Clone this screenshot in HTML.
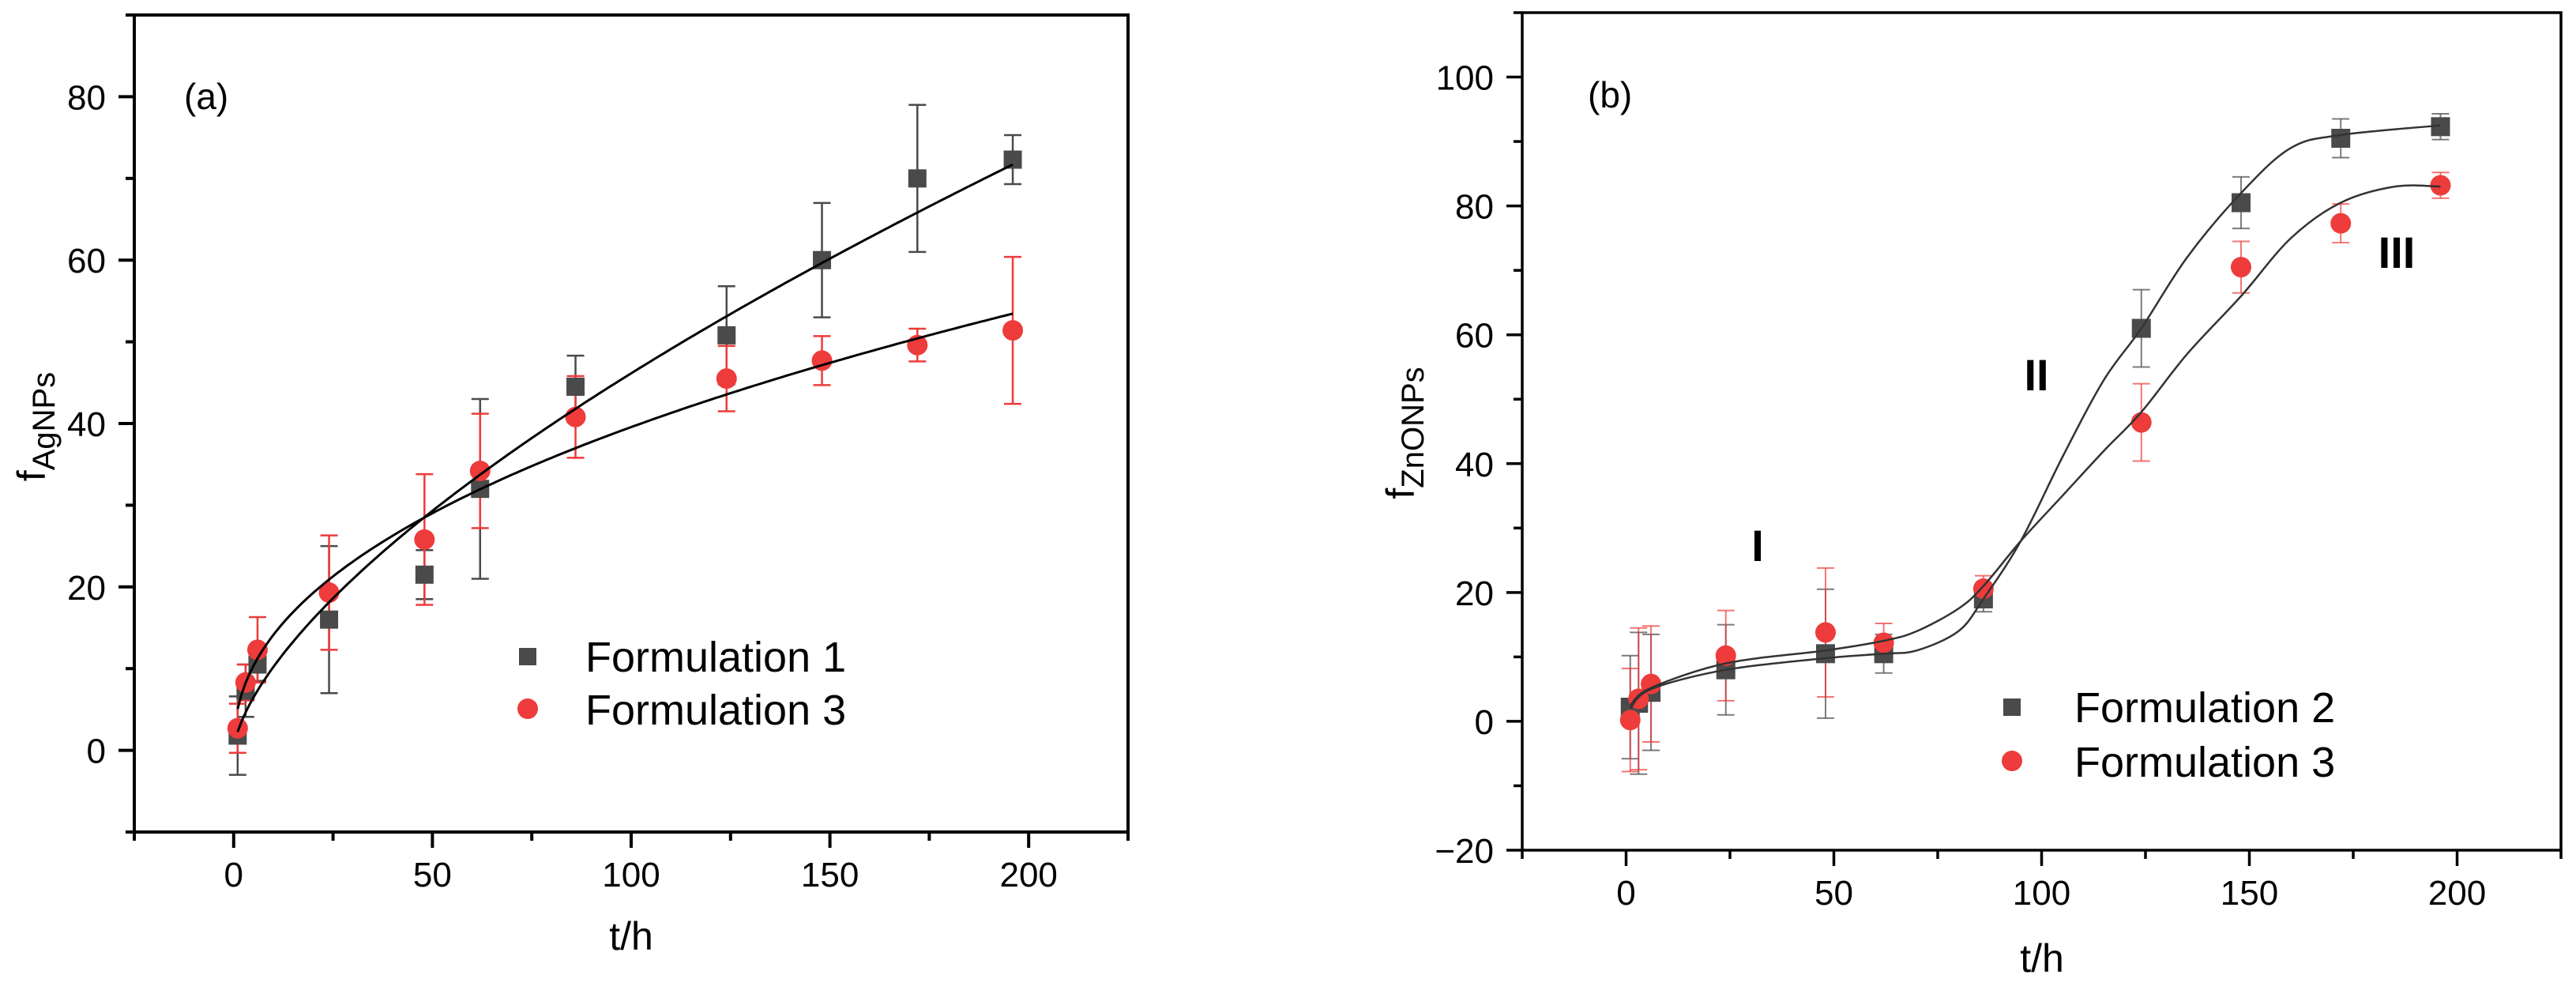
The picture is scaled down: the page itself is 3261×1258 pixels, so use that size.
<!DOCTYPE html>
<html><head><meta charset="utf-8">
<style>
html,body{margin:0;padding:0;background:#fff;}
svg{display:block;font-family:"Liberation Sans",Arial,sans-serif;}
</style></head>
<body>
<svg id="chart" width="3261" height="1258" viewBox="0 0 3261 1258" xmlns="http://www.w3.org/2000/svg"></svg>
<script>
// ---------- Panel (a) data ----------
const aTimes = [1, 3, 6, 24, 48, 62, 86, 124, 148, 172, 196];
const aF1 = [1.8, 7.3, 10.5, 16, 21.5, 32, 44.5, 50.8, 60, 70, 72.3];
const aF1Err = [4.8, 3.2, 2, 9, 3, 11, 3.8, 6, 7, 9, 3];
const aF3 = [2.7, 8.3, 12.3, 19.3, 25.8, 34.2, 40.8, 45.5, 47.7, 49.6, 51.4];
const aF3Err = [3, 2.2, 4, 7, 8, 7, 5, 4, 3, 2, 9];
const aFitF1 = [2.26, 0.655]; // k, n of k*t^n fit
const aFitF3 = [5.05, 0.447];
const aXTicks = [0, 50, 100, 150, 200];
const aYTicks = [0, 20, 40, 60, 80];
// ---------- Panel (b) data ----------
const bTimes = [1, 3, 6, 24, 48, 62, 86, 124, 148, 172, 196];
const bF2 = [2.2, 2.8, 4.5, 8, 10.5, 10.5, 19, 61, 80.5, 90.5, 92.3];
const bF2Err = [8, 11, 9, 7, 10, 3, 2, 6, 4, 3, 2];
const bF3 = [0.2, 3.5, 5.8, 10.2, 13.8, 12.2, 20.6, 46.4, 70.5, 77.3, 83.2];
const bF3Err = [8, 11, 9, 7, 10, 3, 2, 6, 4, 3, 2];
const bCurveT = [1, 6, 24, 48, 62, 70, 80, 86, 95, 105, 115, 124, 135, 148, 160, 172, 196];
const bCurveF2 = [2, 5, 8, 9.8, 10.5, 11, 14, 19, 28, 41, 53, 61, 72, 82, 89, 91, 92.5];
const bCurveT3 = [1, 6, 24, 48, 62, 70, 80, 86, 95, 105, 115, 124, 135, 148, 160, 172, 185, 196];
const bCurveF3 = [2.5, 5.2, 9, 11, 12.5, 14, 17.5, 21, 28, 35, 42, 48, 57, 66, 75, 80.5, 83, 83];
const bXTicks = [0, 50, 100, 150, 200];
const bYTicks = [-20, 0, 20, 40, 60, 80, 100];

const NS = "http://www.w3.org/2000/svg";
const svg = document.getElementById('chart');
function mk(tag, attrs, parent) {
  const e = document.createElementNS(NS, tag);
  for (const k in attrs) e.setAttribute(k, attrs[k]);
  (parent || svg).appendChild(e);
  return e;
}
function txt(s, attrs, parent) { const e = mk('text', attrs, parent); e.textContent = s; return e; }

function panel(cfg) {
  const g = mk('g', {});
  
  
  const X = v => cfg.x0 + (v - cfg.xmin) * (cfg.x1 - cfg.x0) / (cfg.xmax - cfg.xmin);
  const Y = v => cfg.y0 - (v - cfg.ymin) * (cfg.y0 - cfg.y1) / (cfg.ymax - cfg.ymin);
  const fr = mk('rect', {x: cfg.x0, y: cfg.y1, width: cfg.x1 - cfg.x0, height: cfg.y0 - cfg.y1, fill: 'none', stroke: '#000', 'stroke-width': cfg.aw}, g);
  
  
  for (let v = cfg.xmin; v <= cfg.xmax + 0.01; v += 25) {
    const major = cfg.xTicks.includes(v);
    mk('line', {x1: X(v), x2: X(v), y1: cfg.y0, y2: cfg.y0 + (major ? 20 : 11), stroke: '#000', 'stroke-width': cfg.aw}, g);
  }
  cfg.xTicks.forEach(v => {
    const t = txt(String(v), {x: X(v), y: cfg.xlabY, 'font-size': 44, 'text-anchor': 'middle'}, g);
    
    
  });
  for (let v = cfg.ymin; v <= cfg.ymax + 0.01; v += 10) {
    const major = cfg.yTicks.includes(v);
    mk('line', {x1: cfg.x0, x2: cfg.x0 - (major ? 20 : 11), y1: Y(v), y2: Y(v), stroke: '#000', 'stroke-width': cfg.aw}, g);
  }
  cfg.yTicks.forEach(v => {
    const t = txt(v < 0 ? '\u2212' + Math.abs(v) : String(v), {x: cfg.x0 - 36, y: Y(v) + 16, 'font-size': 44, 'text-anchor': 'end'}, g);
    
    
  });
  return {g, X, Y};
}

function errorBars(g, X, Y, ts, vs, es, color, w, name) {
  ts.forEach((t, i) => {
    const e = mk('g', {stroke: color, 'stroke-width': w}, g);
    
    
    const x = X(t), yt = Y(vs[i] + es[i]), yb = Y(vs[i] - es[i]);
    mk('line', {x1: x, x2: x, y1: yt, y2: yb}, e);
    mk('line', {x1: x - 11, x2: x + 11, y1: yt, y2: yt}, e);
    mk('line', {x1: x - 11, x2: x + 11, y1: yb, y2: yb}, e);
  });
}
function squares(g, X, Y, ts, vs, s, name) {
  ts.forEach((t, i) => {
    const r = mk('rect', {x: X(t) - s / 2, y: Y(vs[i]) - s / 2, width: s, height: s, fill: '#4a4a4a'}, g);
    
    
  });
}
function circles(g, X, Y, ts, vs, d, name) {
  ts.forEach((t, i) => {
    const c = mk('circle', {cx: X(t), cy: Y(vs[i]), r: d / 2, fill: '#ee3b3b'}, g);
    
    
  });
}
function smoothPath(pts) {
  let d = 'M' + pts[0][0] + ',' + pts[0][1];
  for (let i = 0; i < pts.length - 1; i++) {
    const p0 = pts[Math.max(0, i - 1)], p1 = pts[i], p2 = pts[i + 1], p3 = pts[Math.min(pts.length - 1, i + 2)];
    const c1 = [p1[0] + (p2[0] - p0[0]) / 6, p1[1] + (p2[1] - p0[1]) / 6];
    const c2 = [p2[0] - (p3[0] - p1[0]) / 6, p2[1] - (p3[1] - p1[1]) / 6];
    d += ' C' + c1[0] + ',' + c1[1] + ' ' + c2[0] + ',' + c2[1] + ' ' + p2[0] + ',' + p2[1];
  }
  return d;
}

// ===== Panel (a) =====
const A = panel({name: 'panel-a', x0: 170, x1: 1428, y0: 1053, y1: 19, xmin: -25, xmax: 225, ymin: -10, ymax: 90, xTicks: aXTicks, yTicks: aYTicks, aw: 4, xlabY: 1122});
{
  const {g, X, Y} = A;
  errorBars(g, X, Y, aTimes, aF1, aF1Err, '#4a4a4a', 2.5, 'error-bar-formulation-1');
  errorBars(g, X, Y, aTimes, aF3, aF3Err, '#ee3b3b', 2.5, 'error-bar-formulation-3');
  squares(g, X, Y, aTimes, aF1, 23, 'point-formulation-1');
  circles(g, X, Y, aTimes, aF3, 26, 'point-formulation-3');
  [[aFitF1, 'fit-line-formulation-1'], [aFitF3, 'fit-line-formulation-3']].forEach(([p, nm]) => {
    let d = '';
    for (let t = 1; t <= 196; t += 1) d += (t === 1 ? 'M' : 'L') + X(t).toFixed(1) + ',' + Y(p[0] * Math.pow(t, p[1])).toFixed(1);
    const l = mk('path', {d, fill: 'none', stroke: '#000', 'stroke-width': 3}, g);
    
    
  });
  let t = txt('(a)', {x: 233, y: 138, 'font-size': 46}, g);
   
  t = txt('t/h', {x: 799, y: 1202, 'font-size': 50, 'text-anchor': 'middle'}, g);
   
  t = mk('text', {transform: 'translate(57,540) rotate(-90)', 'text-anchor': 'middle', 'font-size': 50}, g);
  t.innerHTML = 'f<tspan font-size="40" dy="12">AgNPs</tspan>';
   
  const lg = mk('g', {}, g);
   
  mk('rect', {x: 657, y: 820, width: 22, height: 22, fill: '#4a4a4a'}, lg);
  mk('circle', {cx: 668, cy: 897, r: 13, fill: '#ee3b3b'}, lg);
  t = txt('Formulation 1', {x: 741, y: 850, 'font-size': 54}, lg);
   
  t = txt('Formulation 3', {x: 741, y: 917, 'font-size': 54}, lg);
   
}

// ===== Panel (b) =====
const B = panel({name: 'panel-b', x0: 1927, x1: 3242, y0: 1076, y1: 16, xmin: -25, xmax: 225, ymin: -20, ymax: 110, xTicks: bXTicks, yTicks: bYTicks, aw: 3.5, xlabY: 1145});
{
  const {g, X, Y} = B;
  errorBars(g, X, Y, bTimes, bF2, bF2Err, 'rgba(80,80,80,0.75)', 2, 'error-bar-formulation-2');
  errorBars(g, X, Y, bTimes, bF3, bF3Err, 'rgba(238,59,59,0.7)', 2, 'error-bar-formulation-3');
  squares(g, X, Y, bTimes, bF2, 24, 'point-formulation-2');
  circles(g, X, Y, bTimes, bF3, 26, 'point-formulation-3');
  [[bCurveT, bCurveF2, 'fit-curve-formulation-2'], [bCurveT3, bCurveF3, 'fit-curve-formulation-3']].forEach(([ts, vs, nm]) => {
    const pts = ts.map((t, i) => [X(t), Y(vs[i])]);
    const l = mk('path', {d: smoothPath(pts), fill: 'none', stroke: '#333', 'stroke-width': 2.5}, g);
    
    
  });
  let t = txt('(b)', {x: 2010, y: 136, 'font-size': 46}, g);
   
  t = txt('I', {x: 2225, y: 710, 'font-size': 56, 'font-weight': 'bold', 'text-anchor': 'middle'}, g);
   
  t = txt('II', {x: 2578, y: 494, 'font-size': 56, 'font-weight': 'bold', 'text-anchor': 'middle'}, g);
   
  t = txt('III', {x: 3034, y: 339, 'font-size': 56, 'font-weight': 'bold', 'text-anchor': 'middle'}, g);
   
  t = txt('t/h', {x: 2585, y: 1230, 'font-size': 50, 'text-anchor': 'middle'}, g);
   
  t = mk('text', {transform: 'translate(1790,548) rotate(-90)', 'text-anchor': 'middle', 'font-size': 50}, g);
  t.innerHTML = 'f<tspan font-size="40" dy="12">ZnONPs</tspan>';
   
  const lg = mk('g', {}, g);
   
  mk('rect', {x: 2536, y: 884, width: 22, height: 22, fill: '#4a4a4a'}, lg);
  mk('circle', {cx: 2547, cy: 963, r: 13, fill: '#ee3b3b'}, lg);
  t = txt('Formulation 2', {x: 2626, y: 914, 'font-size': 54}, lg);
   
  t = txt('Formulation 3', {x: 2626, y: 983, 'font-size': 54}, lg);
   
}
</script>
</body></html>
